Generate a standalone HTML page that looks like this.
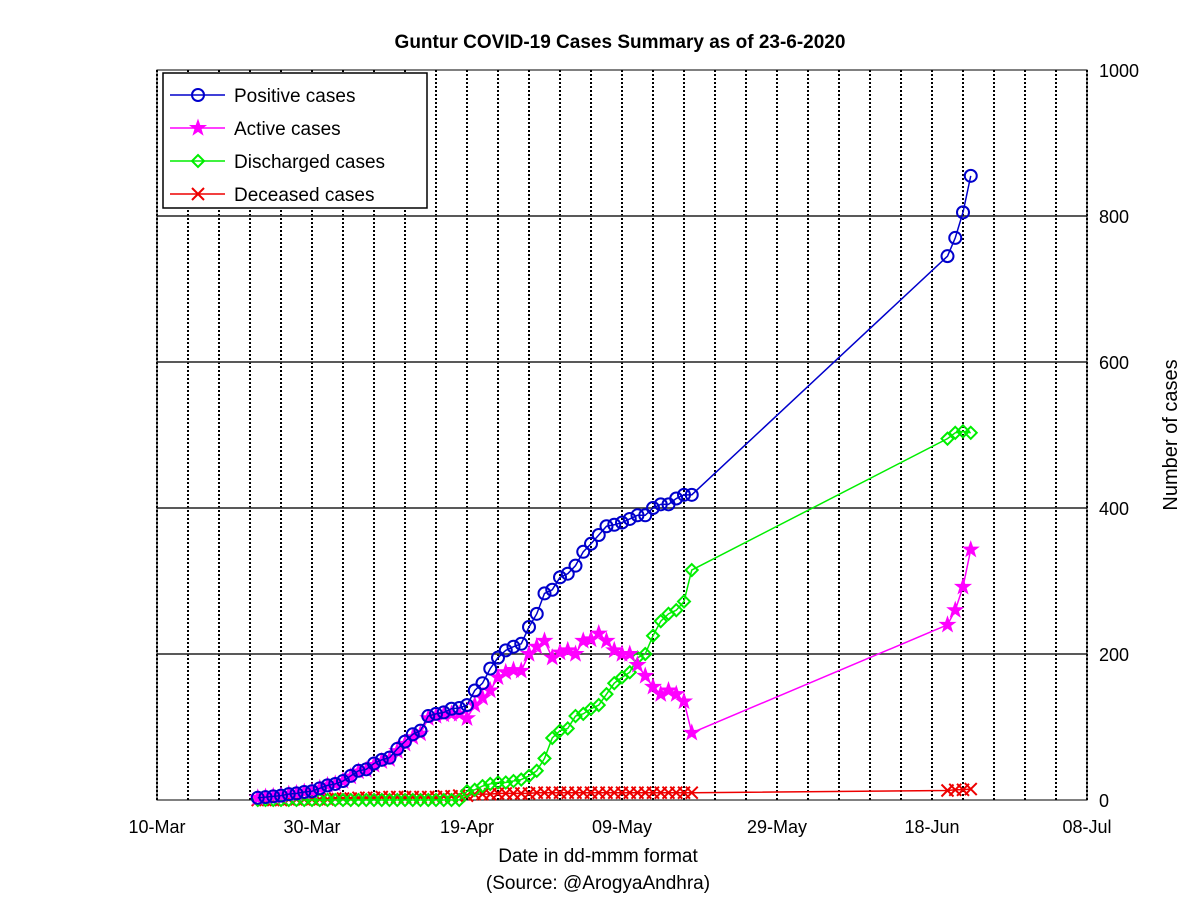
<!DOCTYPE html>
<html><head><meta charset="utf-8"><style>
body{margin:0;background:#fff;font-family:"Liberation Sans",sans-serif}
svg text{font-family:"Liberation Sans",sans-serif}
</style></head><body>
<svg id="c" width="1200" height="898" xmlns="http://www.w3.org/2000/svg"></svg>
<script>
const dates=[];for(let d=13;d<=69;d++)dates.push(d);
const juneDays=[102,103,104,105];
const xTickLabels=["10-Mar","30-Mar","19-Apr","09-May","29-May","18-Jun","08-Jul"];
const yTicks=[0,200,400,600,800,1000];
const positive=[3,4,5,6,8,9,11,12,16,20,22,26,33,40,42,50,55,58,70,80,90,95,115,118,120,125,126,130,150,160,180,195,205,210,214,237,255,283,288,305,310,321,340,351,363,375,377,380,385,390,390,400,405,405,413,418,418];
const positiveJune=[745,770,805,855];
const active=[3,4,5,6,8,9,11,12,16,20,22,26,32,39,41,48,53,56,67,77,86,91,112,115,117,118,118,112,130,140,150,168,175,178,177,200,210,218,195,202,205,200,218,220,228,218,205,200,200,185,170,155,145,150,145,135,92];
const activeJune=[240,260,292,343];
const discharged=[0,0,0,0,0,0,0,0,0,0,0,0,0,0,0,0,0,0,0,0,0,0,0,0,0,0,0,12,14,19,22,24,24,26,28,33,40,57,85,95,98,115,118,125,130,145,160,168,175,195,200,225,245,255,260,272,315];
const dischargedJune=[495,503,505,503];
const deceased=[0,0,0,0,1,1,1,1,1,1,2,2,2,3,3,3,4,4,4,4,4,4,4,4,5,5,6,6,8,8,8,9,9,9,9,9,10,10,10,10,10,10,10,10,10,10,10,10,10,10,10,10,10,10,10,10,10];
const deceasedJune=[13,14,14,15];

const NS="http://www.w3.org/2000/svg",svg=document.getElementById('c');
const X0=157,X1=1087,Y0=800,Y1=70;
const xs=d=>X0+(X1-X0)*d/120, ys=v=>Y0-(Y0-Y1)*v/1000;
function el(t,a,p){const e=document.createElementNS(NS,t);for(const k in a)e.setAttribute(k,a[k]);(p||svg).appendChild(e);return e;}
for(let d=0;d<=120;d+=4){const g=el('line',{x1:xs(d),x2:xs(d),y1:Y1,y2:Y0,stroke:'#000','stroke-width':2,'stroke-dasharray':'2,2'});

}
yTicks.forEach(v=>{if(v>0&&v<1000){const g=el('line',{x1:X0,x2:X1,y1:ys(v),y2:ys(v),stroke:'#222','stroke-width':1.5});

}
const t=el('text',{x:X1+12,y:ys(v)+7,'font-size':18});t.textContent=v;

});
xTickLabels.forEach((s,i)=>{const t=el('text',{x:xs(i*20),y:Y0+33,'font-size':18,'text-anchor':'middle'});t.textContent=s;

});
const box=el('rect',{x:X0,y:Y1,width:X1-X0,height:Y0-Y1,fill:'none',stroke:'#000','stroke-width':1});


function marker(type,x,y,c,g){
 if(type==='o')el('circle',{cx:x,cy:y,r:6,fill:'none',stroke:c,'stroke-width':2},g);
 else if(type==='d')el('polygon',{points:`${x},${y-6} ${x+6},${y} ${x},${y+6} ${x-6},${y}`,fill:'none',stroke:c,'stroke-width':2},g);
 else if(type==='x'){el('path',{d:`M${x-6},${y-6}L${x+6},${y+6}M${x-6},${y+6}L${x+6},${y-6}`,stroke:c,'stroke-width':2},g);}
 else{let p='';for(let i=0;i<10;i++){const r=i%2?3.2:8,a=-Math.PI/2+i*Math.PI/5;p+=`${x+r*Math.cos(a)},${y+r*Math.sin(a)} `;}
  el('polygon',{points:p,fill:c,stroke:c,'stroke-width':1},g);}
}
function series(name,vals,june,c,type){
 const g=el('g',{});
 
 
 const pts=dates.map((d,i)=>[xs(d),ys(vals[i])]).concat(juneDays.map((d,i)=>[xs(d),ys(june[i])]));
 el('polyline',{points:pts.map(p=>p.join(',')).join(' '),fill:'none',stroke:c,'stroke-width':1.5},g);
 pts.forEach(p=>marker(type,p[0],p[1],c,g));
}
series('deceased-series',deceased,deceasedJune,'#e00','x');
series('discharged-series',discharged,dischargedJune,'#0e0','d');
series('active-series',active,activeJune,'#f0f','*');
series('positive-series',positive,positiveJune,'#00c','o');
const lg=el('g',{});


el('rect',{x:163,y:73,width:264,height:135,fill:'#fff',stroke:'#000','stroke-width':1.5},lg);
[['Positive cases','#00c','o'],['Active cases','#f0f','*'],['Discharged cases','#0e0','d'],['Deceased cases','#e00','x']].forEach((e,i)=>{
 const y=95+i*33;
 el('line',{x1:170,x2:225,y1:y,y2:y,stroke:e[1],'stroke-width':1.5},lg);
 marker(e[2],198,y,e[1],lg);
 const t=el('text',{x:234,y:y+7,'font-size':19},lg);t.textContent=e[0];
 
 
});
const ti=el('text',{x:620,y:48,'font-size':19,'font-weight':'bold','text-anchor':'middle'});ti.textContent='Guntur COVID-19 Cases Summary as of 23-6-2020';


const xl=el('text',{x:598,y:862,'font-size':19,'text-anchor':'middle'});xl.textContent='Date in dd-mmm format';


const sl=el('text',{x:598,y:889,'font-size':19,'text-anchor':'middle'});sl.textContent='(Source: @ArogyaAndhra)';


const yl=el('text',{x:0,y:0,'font-size':20,'text-anchor':'middle',transform:'translate(1177,435) rotate(-90)'});yl.textContent='Number of cases';


</script>
</body></html>
